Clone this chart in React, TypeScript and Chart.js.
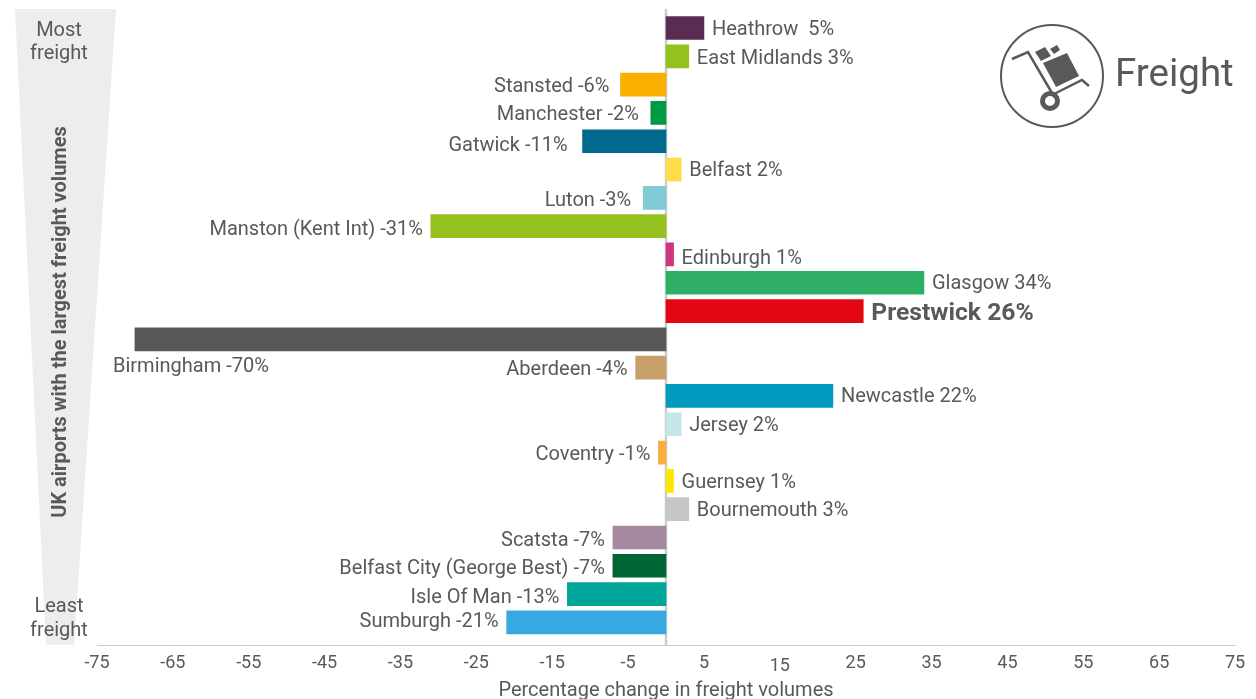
import React, { useEffect, useRef } from "react";
import { Chart, registerables } from "chart.js";

Chart.register(...registerables);

const airports = [
  "Heathrow ", "East Midlands", "Stansted", "Manchester", "Gatwick", "Belfast", "Luton",
  "Manston (Kent Int)", "Edinburgh", "Glasgow", "Prestwick", "Birmingham", "Aberdeen",
  "Newcastle", "Jersey", "Coventry", "Guernsey", "Bournemouth", "Scatsta",
  "Belfast City (George Best)", "Isle Of Man", "Sumburgh",
];
const changes = [5, 3, -6, -2, -11, 2, -3, -31, 1, 34, 26, -70, -4, 22, 2, -1, 1, 3, -7, -7, -13, -21];
const barColors = [
  "#5b2c52", "#95c11f", "#fbb000", "#009a44", "#006a8e", "#ffdd4a", "#80cbd6",
  "#95c11f", "#d1347f", "#2fae66", "#e30613", "#575756", "#c8a06a",
  "#009bbf", "#c5e5ea", "#f9ae42", "#ffe600", "#c6c6c6", "#a58a9f",
  "#006633", "#00a599", "#36a9e1",
];

const FONT = "Roboto, sans-serif";
const TEXT = "#595959";
const RULE = "#cccccc";

// A few negative labels sit further from their bars than the usual 8px.
const wideGaps: Record<string, number> = { Stansted: 11, Manchester: 12, Gatwick: 15, Luton: 12 };
// Hand placement of each label below its bar's centre line, in list order.
const labelDrop = [2, 3, 2, 2, 5, 1, 3, 4, 5, 1, 3, 3, 2, 1, 2, 2, 2, 2, 4, 3, 4, 0];

// Grey wedge, rotated caption and "most/least" notes behind the bars.
const wedgePlugin = {
  id: "wedge",
  beforeDraw(chart: any) {
    const { ctx } = chart;
    ctx.save();
    ctx.fillStyle = "#ededed";
    ctx.beginPath();
    ctx.moveTo(15, 9);
    ctx.lineTo(116, 9);
    ctx.lineTo(74, 645);
    ctx.lineTo(46, 645);
    ctx.closePath();
    ctx.fill();

    ctx.fillStyle = TEXT;
    ctx.font = `20px ${FONT}`;
    ctx.textAlign = "center";
    ctx.textBaseline = "middle";
    ctx.fillText("Most", 59, 31);
    ctx.fillText("freight", 59, 54);
    ctx.fillText("Least", 59, 607);
    ctx.fillText("freight", 59, 631);

    ctx.translate(61, 322);
    ctx.rotate(-Math.PI / 2);
    ctx.font = `bold 20px ${FONT}`;
    ctx.fillText("UK airports with the largest freight volumes", 0, 0);
    ctx.restore();
  },
  // The zero line runs underneath the bars.
  beforeDatasetsDraw(chart: any) {
    const { ctx, scales } = chart;
    const zero = scales.x.getPixelForValue(0);
    ctx.save();
    ctx.strokeStyle = RULE;
    ctx.lineWidth = 2.5;
    ctx.beginPath();
    ctx.moveTo(zero, 9);
    ctx.lineTo(zero, 645);
    ctx.stroke();
    ctx.restore();
  },
};

// Value labels beside the bars and the lowered "15" tick.
const labelPlugin = {
  id: "barLabels",
  afterDatasetsDraw(chart: any) {
    const { ctx, scales } = chart;
    const x = scales.x;
    const y = scales.y;
    ctx.save();
    ctx.textBaseline = "middle";
    changes.forEach((v, i) => {
      const name = airports[i];
      const text = `${name} ${v}%`;
      const bold = name === "Prestwick";
      ctx.font = bold ? `bold 24.7px ${FONT}` : `20px ${FONT}`;
      ctx.fillStyle = TEXT;
      const px = x.getPixelForValue(v);
      const py = y.getPixelForValue(i) + labelDrop[i];
      if (name === "Birmingham") {
        ctx.textAlign = "left";
        ctx.fillText(text, 113, py + 25);
      } else if (v < 0) {
        ctx.textAlign = "right";
        ctx.fillText(text, px - (wideGaps[name] ?? 8), py);
      } else {
        ctx.textAlign = "left";
        ctx.fillText(text, px + 8, py);
      }
    });

    ctx.font = `18px ${FONT}`;
    ctx.textAlign = "center";
    ctx.fillText("15", x.getPixelForValue(15), 666);
    ctx.restore();
  },
};

// Hand-truck badge in the top right corner.
const badgePlugin = {
  id: "badge",
  afterDraw(chart: any) {
    const { ctx } = chart;
    ctx.save();
    ctx.strokeStyle = TEXT;
    ctx.fillStyle = TEXT;
    ctx.lineWidth = 2;
    ctx.beginPath();
    ctx.arc(1052, 76, 51, 0, Math.PI * 2);
    ctx.stroke();

    ctx.lineWidth = 2.5;
    ctx.beginPath();
    ctx.moveTo(1012, 59);
    ctx.lineTo(1028, 52);
    ctx.lineTo(1052, 93);
    ctx.moveTo(1054, 94);
    ctx.lineTo(1082, 80);
    ctx.lineTo(1089, 86);
    ctx.stroke();

    const quad = (pts: number[][]) => {
      ctx.beginPath();
      pts.forEach(([a, b], k) => (k ? ctx.lineTo(a, b) : ctx.moveTo(a, b)));
      ctx.closePath();
      ctx.fill();
    };
    quad([[1043, 63], [1067, 53], [1079, 76], [1056, 87]]);
    quad([[1035, 52], [1045, 47], [1051, 56], [1041, 61]]);
    quad([[1050, 49], [1057, 45], [1060, 50], [1054, 54]]);

    ctx.lineWidth = 5;
    ctx.beginPath();
    ctx.arc(1050, 101, 7.5, 0, Math.PI * 2);
    ctx.stroke();

    ctx.font = `38.5px ${FONT}`;
    ctx.textAlign = "left";
    ctx.textBaseline = "alphabetic";
    ctx.fillText("Freight", 1115, 86);
    ctx.restore();
  },
};

export default function App() {
  const ref = useRef<HTMLCanvasElement>(null);

  useEffect(() => {
    document.body.style.margin = "0";
    const chart = new Chart(ref.current!, {
      type: "bar",
      data: {
        labels: airports,
        datasets: [
          {
            data: changes.map((v, i) => ({ x: v, y: i })),
            backgroundColor: barColors,
            barThickness: 23,
          },
        ],
      },
      plugins: [wedgePlugin, labelPlugin, badgePlugin],
      options: {
        indexAxis: "y",
        responsive: false,
        animation: false,
        layout: { padding: { left: 97, right: 21, top: 5.4, bottom: 0 } },
        plugins: { legend: { display: false }, tooltip: { enabled: false } },
        scales: {
          x: {
            type: "linear",
            min: -75,
            max: 75,
            afterFit: (scale: any) => {
              scale.height = 54;
            },
            grid: { display: false, drawTicks: false },
            border: { color: RULE, width: 1 },
            ticks: {
              stepSize: 10,
              padding: 8,
              maxRotation: 0,
              autoSkip: false,
              color: TEXT,
              font: { family: FONT, size: 18 },
              callback: (v: any) => (v === 15 ? "" : String(v)),
            },
            title: {
              display: true,
              text: "Percentage change in freight volumes",
              color: TEXT,
              font: { family: FONT, size: 20 },
              padding: { top: 0, bottom: -4 },
            },
          },
          y: {
            type: "linear",
            reverse: true,
            offset: false,
            min: -0.8,
            max: 21.8,
            display: false,
            grid: { display: false },
          },
        },
      } as any,
    });
    return () => chart.destroy();
  }, []);

  return <canvas ref={ref} width={1256} height={699} style={{ display: "block" }} />;
}
